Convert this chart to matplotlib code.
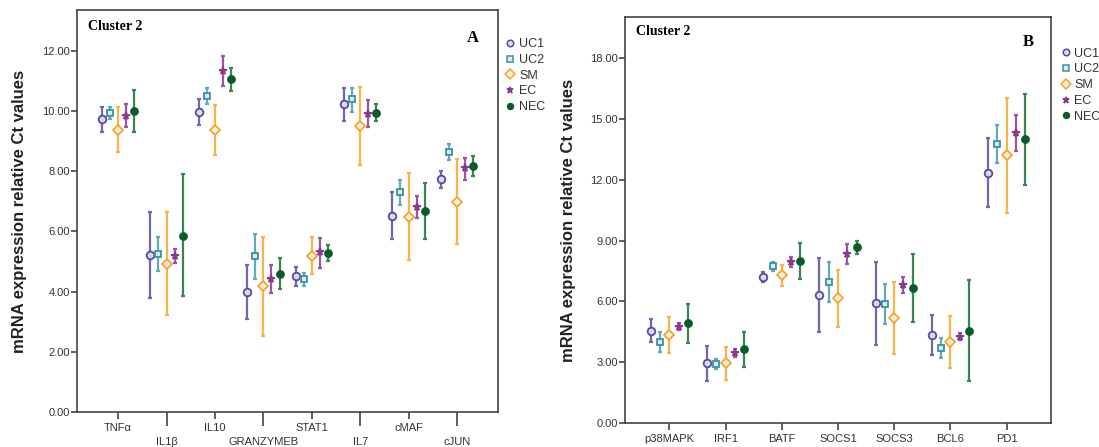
import matplotlib
matplotlib.use('Agg')
import matplotlib.pyplot as plt
from matplotlib.lines import Line2D
import numpy as np

plt.rcParams['font.family'] = ['Liberation Sans', 'DejaVu Sans']

# ---------------- data ----------------
groups = ['UC1', 'UC2', 'SM', 'EC', 'NEC']

genes_a = ['TNFα', 'IL1β', 'IL10', 'GRANZYMEB', 'STAT1', 'IL7', 'cMAF', 'cJUN']
a_uc1 = [9.73, 5.20, 9.97, 3.97, 4.50, 10.22, 6.52, 7.73]
a_uc1_lo = [9.31, 3.77, 9.54, 3.08, 4.17, 9.68, 5.74, 7.43]
a_uc1_hi = [10.14, 6.64, 10.40, 4.88, 4.83, 10.75, 7.29, 8.02]
a_uc2 = [9.92, 5.24, 10.49, 5.18, 4.41, 10.39, 7.29, 8.64]
a_uc2_lo = [9.73, 4.67, 10.23, 4.42, 4.20, 9.96, 6.88, 8.37]
a_uc2_hi = [10.14, 5.80, 10.75, 5.91, 4.61, 10.75, 7.71, 8.89]
a_sm = [9.37, 4.92, 9.37, 4.17, 5.19, 9.50, 6.49, 6.99]
a_sm_lo = [8.63, 3.23, 8.54, 2.53, 4.57, 8.20, 5.06, 5.59]
a_sm_hi = [10.12, 6.64, 10.19, 5.82, 5.81, 10.79, 7.93, 8.40]
a_ec = [9.83, 5.17, 11.33, 4.41, 5.30, 9.90, 6.80, 8.10]
a_ec_lo = [9.46, 4.94, 10.83, 3.95, 4.77, 9.45, 6.44, 7.71]
a_ec_hi = [10.23, 5.41, 11.83, 4.87, 5.79, 10.35, 7.16, 8.43]
a_nec = [10.00, 5.86, 11.06, 4.59, 5.28, 9.94, 6.69, 8.17]
a_nec_lo = [9.31, 3.84, 10.67, 4.09, 5.03, 9.68, 5.74, 7.84]
a_nec_hi = [10.70, 7.91, 11.44, 5.11, 5.53, 10.22, 7.62, 8.51]

genes_b = ['p38MAPK', 'IRF1', 'BATF', 'SOCS1', 'SOCS3', 'BCL6', 'PD1']
b_uc1 = [4.55, 2.93, 7.21, 6.31, 5.90, 4.31, 12.35]
b_uc1_lo = [4.00, 2.08, 6.97, 4.48, 3.84, 3.34, 10.67]
b_uc1_hi = [5.11, 3.79, 7.46, 8.15, 7.92, 5.30, 14.05]
b_uc2 = [4.00, 2.88, 7.74, 6.95, 5.86, 3.67, 13.77]
b_uc2_lo = [3.51, 2.64, 7.51, 5.98, 4.87, 3.18, 12.85]
b_uc2_hi = [4.50, 3.15, 7.95, 7.95, 6.85, 4.17, 14.69]
b_sm = [4.33, 2.93, 7.28, 6.14, 5.15, 3.97, 13.21]
b_sm_lo = [3.43, 2.11, 6.75, 4.74, 3.39, 2.68, 10.34]
b_sm_hi = [5.20, 3.72, 7.81, 7.54, 6.97, 5.27, 16.06]
b_ec = [4.74, 3.43, 7.95, 8.33, 6.80, 4.25, 14.33]
b_ec_lo = [4.58, 3.26, 7.71, 7.84, 6.39, 4.08, 13.44]
b_ec_hi = [4.91, 3.62, 8.20, 8.81, 7.21, 4.41, 15.18]
b_nec = [4.91, 3.64, 7.99, 8.66, 6.64, 4.55, 14.00]
b_nec_lo = [3.92, 2.77, 7.08, 8.33, 4.96, 2.08, 11.74]
b_nec_hi = [5.86, 4.50, 8.86, 8.99, 8.32, 7.05, 16.24]

yticks_a = [0, 2, 4, 6, 8, 10, 12]
yticks_b = [0, 3, 6, 9, 12, 15, 18]

# ---------------- styles ----------------
mcol = {'UC1': '#554c9c', 'UC2': '#3f8fa3', 'SM': '#f3a52e', 'EC': '#8a3a8c', 'NEC': '#0d5a2c'}
ecol = {'UC1': '#6f68b0', 'UC2': '#62a9b9', 'SM': '#f6b548', 'EC': '#9d55a3', 'NEC': '#3b8356'}
face = {'UC1': '#dcd9ee', 'UC2': '#d5ebf0', 'SM': '#fdf0da', 'EC': '#8a3a8c', 'NEC': '#0d5a2c'}
mark = {'UC1': 'o', 'UC2': 's', 'SM': 'D', 'EC': '*', 'NEC': 'o'}
msz = {'UC1': 5.5, 'UC2': 5.0, 'SM': 5.5, 'EC': 5.5, 'NEC': 5.0}
spine_col = '#444444'

fig = plt.figure(figsize=(10.99, 4.47), dpi=100)
axA = fig.add_axes([0.0701, 0.0783, 0.3831, 0.8993])
axB = fig.add_axes([0.5687, 0.0544, 0.3876, 0.9070])


def draw(ax, genes, series, offset):
    x = np.arange(len(genes))
    for k, g in enumerate(groups):
        mean, lo, hi = (np.array(v) for v in series[k])
        xs = x + (k - 2) * offset
        ax.errorbar(xs, mean, yerr=[mean - lo, hi - mean], fmt='none',
                    ecolor=ecol[g], elinewidth=1.6, capsize=1.2, capthick=1.6, zorder=2)
        ax.plot(xs, mean, linestyle='none', marker=mark[g], markersize=msz[g],
                markerfacecolor=face[g], markeredgecolor=mcol[g],
                markeredgewidth=1.3, zorder=3)
    for s in ax.spines.values():
        s.set_color(spine_col)
        s.set_linewidth(1.2)
    ax.set_xticks(x)
    ax.tick_params(axis='both', colors=spine_col, labelcolor='#333333', labelsize=8, width=1.2)
    ax.tick_params(axis='y', length=4, pad=1)
    ax.set_ylabel('mRNA expression relative Ct values', fontsize=12, fontweight='bold',
                  color='#222222')


series_a = [(a_uc1, a_uc1_lo, a_uc1_hi), (a_uc2, a_uc2_lo, a_uc2_hi), (a_sm, a_sm_lo, a_sm_hi),
            (a_ec, a_ec_lo, a_ec_hi), (a_nec, a_nec_lo, a_nec_hi)]
series_b = [(b_uc1, b_uc1_lo, b_uc1_hi), (b_uc2, b_uc2_lo, b_uc2_hi), (b_sm, b_sm_lo, b_sm_hi),
            (b_ec, b_ec_lo, b_ec_hi), (b_nec, b_nec_lo, b_nec_hi)]

draw(axA, genes_a, series_a, 0.167)
draw(axB, genes_b, series_b, 0.165)

# panel A axes
axA.set_xlim(-0.85, len(genes_a) - 1 + 0.85)
axA.set_ylim(0, 13.35)
axA.set_yticks(yticks_a)
axA.set_yticklabels(['%.2f' % v for v in yticks_a])
labsA = axA.set_xticklabels([g if i % 2 == 0 else '\n' + g for i, g in enumerate(genes_a)])
for i, lab in enumerate(labsA):
    if i % 2 == 1:
        lab.set_linespacing(1.45)
axA.tick_params(axis='x', length=5, pad=3)
for i, t in enumerate(axA.xaxis.get_major_ticks()):
    t.tick1line.set_markersize(5 if i % 2 == 0 else 10)
axA.yaxis.set_label_coords(-0.118, 0.5)

# panel B axes
axB.set_xlim(-0.79, len(genes_b) - 1 + 0.79)
axB.set_ylim(0, 20.03)
axB.set_yticks(yticks_b)
axB.set_yticklabels(['%.2f' % v for v in yticks_b])
axB.set_xticklabels(genes_b)
axB.tick_params(axis='x', length=5, pad=3)
axB.yaxis.set_label_coords(-0.114, 0.5)

# titles / panel letters
for ax, letter, cy, lx, ly in [(axA, 'A', 0.96, 0.94, 0.93), (axB, 'B', 0.964, 0.946, 0.939)]:
    ax.text(0.026, cy, 'Cluster 2', transform=ax.transAxes, ha='left', va='center',
            fontsize=10, fontweight='bold', family='Liberation Serif')
    ax.text(lx, ly, letter, transform=ax.transAxes, ha='center', va='center',
            fontsize=12, fontweight='bold', family='Liberation Serif')

# legends
handles = [Line2D([], [], linestyle='none', marker=mark[g], markersize=msz[g] * 0.85,
                  markerfacecolor=face[g], markeredgecolor=mcol[g], markeredgewidth=1.1)
           for g in groups]
for ax, bx, by in [(axA, 1.019, 0.93), (axB, 1.024, 0.925)]:
    ax.legend(handles, groups, loc='upper left', bbox_to_anchor=(bx, by), frameon=False,
              fontsize=9, handlelength=0.7, handletextpad=0.35, labelspacing=0.3,
              borderaxespad=0, borderpad=0, labelcolor='#333333')

fig.savefig('out.png', dpi=100)
